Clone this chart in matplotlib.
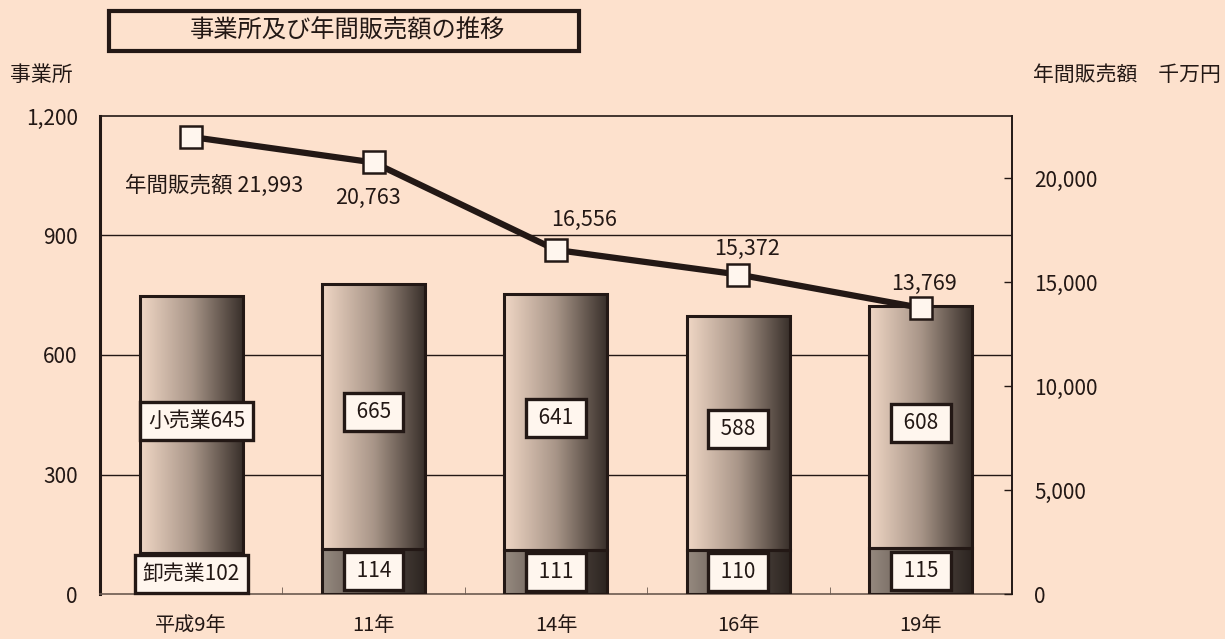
import numpy as np
import matplotlib
matplotlib.use("Agg")
import matplotlib.pyplot as plt
from matplotlib.ticker import FuncFormatter

plt.rcParams['font.family'] = ['Noto Sans CJK JP', 'DejaVu Sans']

# data
years = ["平成9年", "11年", "14年", "16年", "19年"]
wholesale = [102, 114, 111, 110, 115]        # 卸売業 事業所
retail = [645, 665, 641, 588, 608]           # 小売業 事業所
sales = [21993, 20763, 16556, 15372, 13769]  # 年間販売額 千万円

BG = "#fde1cd"
INK = "#231815"
BOX_FC = "#fff6ee"


def gradient(c0, c1, c2, n=256):
    c0, c1, c2 = [np.array(matplotlib.colors.to_rgb(c)) for c in (c0, c1, c2)]
    t = np.linspace(0, 1, n)[:, None]
    g = np.where(t < 0.5, c0 + (c1 - c0) * (t / 0.5), c1 + (c2 - c1) * ((t - 0.5) / 0.5))
    return g[None, :, :]


grad_retail = gradient("#f0d7c5", "#a89588", "#372e29")
grad_whole = gradient("#968a80", "#5e534c", "#2b2420")

fig = plt.figure(figsize=(12.25, 6.39), dpi=100, facecolor=BG)
ax = fig.add_axes([0.0816, 0.0704, 0.7445, 0.7481])
ax.set_facecolor(BG)

x = np.arange(len(years))
width = 0.565

# horizontal grid
for v in [300, 600, 900]:
    ax.axhline(v, color=INK, lw=1.0, zorder=1)

b_w = ax.bar(x, wholesale, width, facecolor="none", edgecolor=INK, lw=2.2, zorder=4)
b_r = ax.bar(x, retail, width, bottom=wholesale, facecolor="none", edgecolor=INK, lw=2.2, zorder=4)

for bars, grad in ((b_w, grad_whole), (b_r, grad_retail)):
    for b in bars:
        ax.imshow(grad, extent=[b.get_x(), b.get_x() + b.get_width(),
                                b.get_y(), b.get_y() + b.get_height()],
                  aspect="auto", interpolation="bilinear", zorder=3)

box = dict(boxstyle="square,pad=0.38", fc=BOX_FC, ec=INK, lw=2.4)
for i in range(len(years)):
    r_lab = f"小売業{retail[i]}" if i == 0 else f" {retail[i]} "
    w_lab = f"卸売業{wholesale[i]}" if i == 0 else f" {wholesale[i]} "
    ax.text(x[i] + (0.03 if i == 0 else 0), wholesale[i] + retail[i] / 2 + 10, r_lab,
            ha="center", va="center", fontsize=15, color=INK, bbox=box, zorder=6)
    ax.text(x[i], wholesale[i] / 2, w_lab, ha="center", va="center",
            fontsize=15, color=INK, bbox=box, zorder=6)

ax.set_xlim(-0.5, len(years) - 0.5)
ax.set_ylim(0, 1200)
ax.set_yticks([0, 300, 600, 900, 1200])
ax.yaxis.set_major_formatter(FuncFormatter(lambda v, p: f"{int(v):,}"))
ax.tick_params(axis="y", length=0, pad=16, labelsize=15, colors=INK)
ax.set_xticks(x)
ax.set_xticklabels(years)
ax.tick_params(axis="x", length=0, pad=15, labelsize=14.5, colors=INK)
ax.set_xticks(x[:-1] + 0.5, minor=True)
ax.tick_params(axis="x", which="minor", direction="in", length=5, color="#6b5a50")

ax.spines["left"].set_color(INK)
ax.spines["left"].set_linewidth(2.2)
ax.spines["bottom"].set_color("#6b5a50")
ax.spines["bottom"].set_linewidth(1.2)
ax.spines["top"].set_color(INK)
ax.spines["top"].set_linewidth(1.2)
ax.spines["right"].set_visible(False)

# annual sales line on the secondary axis
ax2 = ax.twinx()
ax2.set_ylim(0, 23000)
ax2.set_yticks([0, 5000, 10000, 15000, 20000])
ax2.yaxis.set_major_formatter(FuncFormatter(lambda v, p: f"{int(v):,}"))
ax2.tick_params(axis="y", direction="in", length=6, pad=16, labelsize=15,
                colors=INK, width=1.0)
for s in ("left", "top", "bottom"):
    ax2.spines[s].set_visible(False)
ax2.spines["right"].set_color(INK)
ax2.spines["right"].set_linewidth(1.4)

ax2.plot(x, sales, color=INK, lw=4.5, marker="s", markersize=16,
         markerfacecolor=BOX_FC, markeredgecolor=INK, markeredgewidth=1.8, zorder=7)

offsets = [(23, -49), (-6, -35), (28, 30), (9, 26), (3, 24)]
for i, v in enumerate(sales):
    lab = f"年間販売額 {v:,}" if i == 0 else f"{v:,}"
    ax2.annotate(lab, (x[i], v), xytext=offsets[i], textcoords="offset pixels",
                 ha="center", va="center", fontsize=15.5, color=INK, zorder=8)

# axis captions and title box
fig.text(10 / 1225, 1 - 75 / 639, "事業所", fontsize=15, color=INK, ha="left", va="center")
fig.text(1033 / 1225, 1 - 75 / 639, "年間販売額　千万円", fontsize=15, color=INK,
         ha="left", va="center")
fig.text(347 / 1225, 1 - 31 / 639, "事業所及び年間販売額の推移", fontsize=17.5, color=INK,
         ha="center", va="center")
fig.add_artist(plt.Rectangle((109 / 1225, 1 - 51 / 639), 470 / 1225, 40 / 639,
                             transform=fig.transFigure, fill=False, ec=INK, lw=3))

fig.savefig("out.png", dpi=100, facecolor=BG)
